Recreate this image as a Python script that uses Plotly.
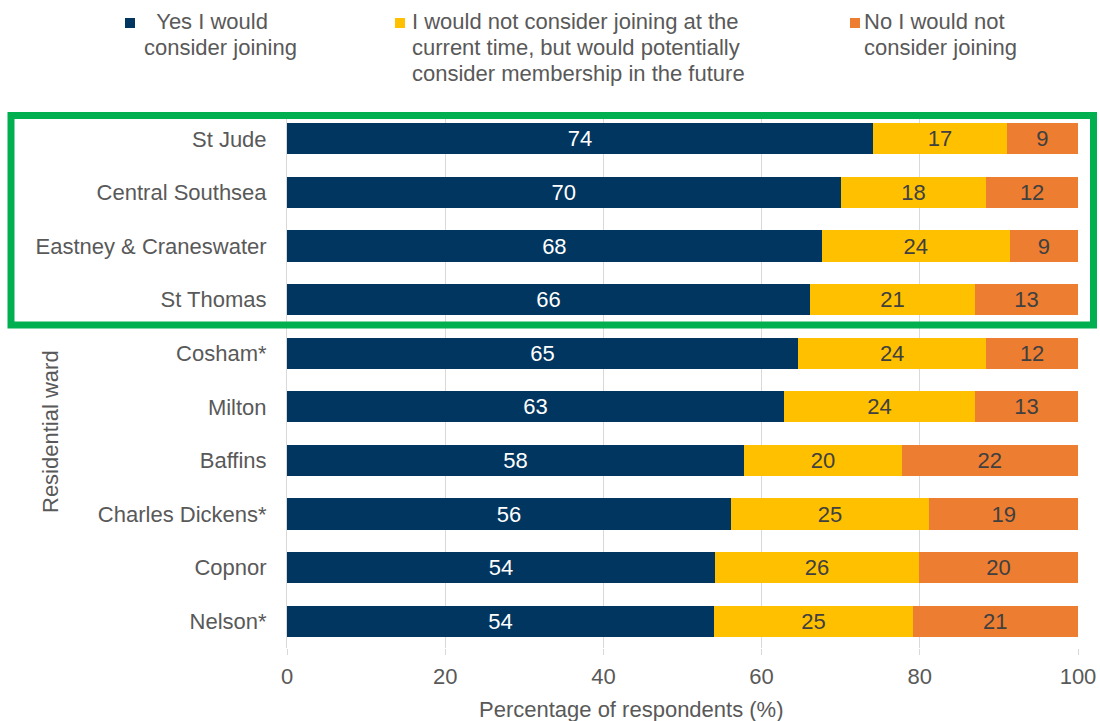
import plotly.graph_objects as go

wards = ["St Jude", "Central Southsea", "Eastney & Craneswater", "St Thomas", "Cosham*",
         "Milton", "Baffins", "Charles Dickens*", "Copnor", "Nelson*"]
yes_join = [74.1, 70.0, 67.6, 66.1, 64.6, 62.8, 57.8, 56.1, 54.1, 54.0]
maybe_future = [16.9, 18.4, 23.8, 20.9, 23.8, 24.2, 19.9, 25.1, 25.8, 25.1]
no_join = [9.0, 11.6, 8.6, 13.0, 11.6, 13.0, 22.3, 18.8, 20.1, 20.9]

series_names = ["Yes I would consider joining",
                "I would not consider joining at the current time, but would potentially consider membership in the future",
                "No I would not consider joining"]
legend_lines = [["\u00a0\u00a0Yes I would", "consider joining"],
                ["I would not consider joining at the", "current time, but would potentially",
                 "consider membership in the future"],
                ["No I would not", "consider joining"]]
colors = ["#003660", "#FFC000", "#ED7D31"]
label_colors = ["#FFFFFF", "#404040", "#404040"]
x_ticks = [0, 20, 40, 60, 80, 100]

FONT = "Liberation Sans, Arial, sans-serif"
GREY = "#595959"
FS = 22

fig = go.Figure()
for vals, name, col, lc in zip([yes_join, maybe_future, no_join], series_names, colors, label_colors):
    fig.add_trace(go.Bar(
        y=wards, x=vals, orientation="h", name=name,
        marker=dict(color=col, line=dict(width=0)),
        texttemplate="%{x:.0f}", textposition="inside", insidetextanchor="middle",
        textangle=0, constraintext="none",
        textfont=dict(family=FONT, size=FS, color=lc),
        showlegend=False,
    ))

# plot area in pixels: x 287..1078, y 112..648
L, R, T, B = 287, 1078, 112, 648
W, H = R - L, B - T
def px(x): return (x - L) / W
def py(y): return (B - y) / H

fig.update_layout(
    width=1100, height=721,
    margin=dict(l=L, r=1100 - R, t=T, b=721 - B, autoexpand=False),
    barmode="stack", bargap=0.42,
    plot_bgcolor="white", paper_bgcolor="white",
    font=dict(family=FONT, size=FS, color=GREY),
    xaxis=dict(range=[0, 100], tickvals=x_ticks, showgrid=True, gridcolor="#D9D9D9",
               gridwidth=1, zeroline=False, showline=False, ticks="outside",
               ticklen=6, tickcolor="#D9D9D9", ticklabelstandoff=3, automargin=False,
               tickfont=dict(family=FONT, size=FS, color=GREY), fixedrange=True),
    yaxis=dict(autorange=False, range=[9.5, -0.5], showgrid=False, zeroline=False,
               showline=True, linecolor="#D9D9D9", linewidth=1, ticks="",
               ticklabelstandoff=15, automargin=False,
               tickfont=dict(family=FONT, size=FS, color=GREY), fixedrange=True),
)

annotations = [
    dict(text="Percentage of respondents (%)", x=px(631), y=py(709), xref="paper", yref="paper",
         xanchor="center", yanchor="middle", showarrow=False,
         font=dict(family=FONT, size=FS, color=GREY)),
    dict(text="Residential ward", x=px(50), y=py(432), xref="paper", yref="paper",
         xanchor="center", yanchor="middle", showarrow=False, textangle=-90,
         font=dict(family=FONT, size=FS, color=GREY)),
]

# legend drawn manually to match reference layout
marker_x = [125, 395, 850]
text_x = [145, 413, 865]
line_y = [21, 47, 73]
shapes = []
for lines, mx, tx, col in zip(legend_lines, marker_x, text_x, colors):
    for ln, ly in zip(lines, line_y):
        annotations.append(dict(text=ln, x=px(tx - 3), y=py(ly), xref="paper", yref="paper",
                                xanchor="left", yanchor="middle", align="left", showarrow=False,
                                font=dict(family=FONT, size=FS, color=GREY)))
    shapes.append(dict(type="rect", xref="paper", yref="paper",
                       x0=px(mx), x1=px(mx + 10), y0=py(28), y1=py(18),
                       fillcolor=col, line=dict(width=0)))

# green highlight box
shapes.append(dict(type="rect", xref="paper", yref="paper",
                   x0=px(11), x1=px(1093.5), y0=py(325), y1=py(115.5),
                   line=dict(color="#00B050", width=7), fillcolor="rgba(0,0,0,0)", layer="above"))

fig.update_layout(annotations=annotations, shapes=shapes)
fig.write_html("out.html", config={"displayModeBar": False},
               post_script="document.body.style.margin='0';document.body.style.padding='0';")
